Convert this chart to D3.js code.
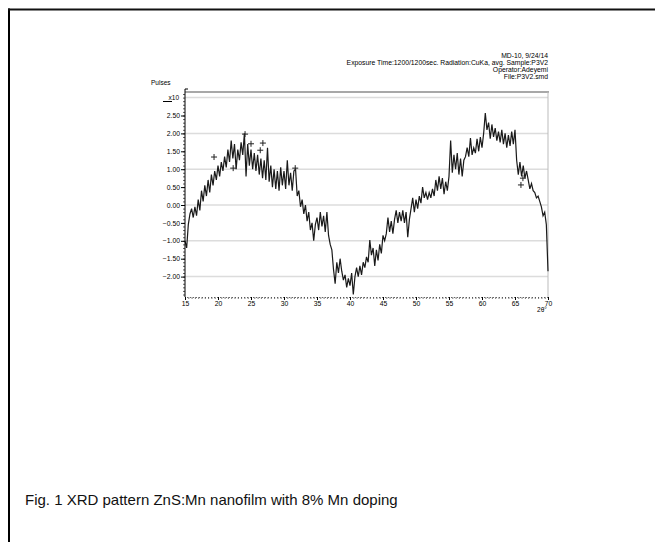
<!DOCTYPE html>
<html>
<head>
<meta charset="utf-8">
<script src="https://cdn.jsdelivr.net/npm/d3@7"></script>
<style>
  body { margin: 0; background: #fff; }
  text { font-family: "Liberation Sans", Arial, sans-serif; }
</style>
</head>
<body>
<div id="chart"></div>
<script>
// 2theta sampled every 0.25 deg from 15 to 70
const twoTheta = d3.range(15, 70.001, 0.25);

// intensity (x10^3 pulses)
const pulses = [
  -1.00, -1.20, -0.55, -0.25,
  -0.10, -0.35, -0.05, -0.30,
   0.15, -0.15,  0.40,  0.10,
   0.55,  0.25,  0.70,  0.35,
   0.85,  0.55,  0.95,  0.70,
   1.10,  0.80,  1.20,  0.95,
   1.35,  1.05,  1.55,  1.20,
   1.80,  1.30,  1.70,  1.00,
   1.55,  1.25,  1.75,  1.40,
   2.00,  0.80,  1.70,  1.10,
   1.55,  1.00,  1.45,  0.95,
   1.40,  0.85,  1.30,  0.75,
   1.25,  0.70,  1.60,  0.65,
   1.10,  0.50,  1.00,  0.45,
   0.95,  0.40,  1.05,  0.55,
   0.95,  0.45,  1.25,  0.55,
   0.90,  0.40,  0.95,  1.00,
   0.25,  0.40, -0.05,  0.15,
  -0.25,  0.00, -0.45, -0.20,
  -0.70, -0.50, -1.00, -0.55,
  -0.35, -0.70, -0.20, -0.60,
  -0.30, -0.75, -0.20, -0.85,
  -1.10, -1.25, -1.80, -2.20,
  -1.60, -1.90, -1.50, -1.85,
  -2.10, -1.95, -2.30, -2.05,
  -2.25, -1.90, -2.50, -2.00,
  -1.75, -2.00, -1.70, -1.95,
  -1.60, -1.75, -1.45, -1.60,
  -0.98, -1.40, -1.20, -1.70,
  -1.25, -1.55, -1.10, -1.35,
  -0.85, -1.00, -0.80, -0.35,
  -0.75, -0.45, -0.80, -0.40,
  -0.15, -0.50, -0.20, -0.45,
  -0.15, -0.50, -0.20, -0.90,
  -0.40, -0.10,  0.20, -0.20,
   0.15, -0.10,  0.25,  0.05,
   0.50,  0.20,  0.35,  0.15,
   0.35,  0.20,  0.45,  0.25,
   0.70,  0.40,  0.80,  0.45,
   0.75,  0.30,  0.65,  0.40,
   0.80,  1.80,  0.90,  1.40,
   1.00,  1.45,  0.85,  1.30,
   0.80,  1.25,  1.35,  1.60,
   1.35,  1.87,  1.40,  1.60,
   1.45,  1.85,  1.50,  1.90,
   1.60,  2.00,  2.57,  2.10,
   2.30,  1.85,  2.25,  1.90,
   2.15,  1.80,  2.05,  1.75,
   2.10,  1.70,  2.00,  1.60,
   1.95,  1.65,  2.05,  1.70,
   2.10,  1.25,  0.85,  1.20,
   0.80,  1.10,  0.75,  0.95,
   0.70,  0.45,  0.60,  0.40,
   0.35,  0.20,  0.25,  0.10,
  -0.05, -0.30, -0.20, -0.55,
  -1.85
];

// peak markers (+)
const markerTheta = [19.4, 22.3, 24.1, 25.0, 26.4, 26.8, 31.7, 65.9, 66.2];
const markerValue = [1.34, 1.03, 1.98, 1.71, 1.53, 1.73, 1.03, 0.56, 0.75];

const xTicks = [15, 20, 25, 30, 35, 40, 45, 50, 55, 60, 65, 70];
const yTicks = [2.5, 2.0, 1.5, 1.0, 0.5, 0.0, -0.5, -1.0, -1.5, -2.0];
const gridValues = [3, 2, 1, 0, -1, -2];

const headerLines = [
  "MD-10,  9/24/14",
  "Exposure Time:1200/1200sec.  Radiation:CuKa, avg.  Sample:P3V2",
  "Operator:Adeyemi",
  "File:P3V2.smd"
];
const caption = "Fig. 1 XRD pattern ZnS:Mn nanofilm with 8% Mn doping";

const svg = d3.select("#chart")
  .append("svg")
  .attr("width", 655)
  .attr("height", 542);

// page frame (left and top edges)
svg.append("line").attr("x1", 9).attr("x2", 9).attr("y1", 8.5).attr("y2", 542)
  .attr("stroke", "#000").attr("stroke-width", 2);
svg.append("line").attr("x1", 8).attr("x2", 655).attr("y1", 9.5).attr("y2", 9.5)
  .attr("stroke", "#111").attr("stroke-width", 2);

const plotLeft = 185, plotRight = 548, plotTop = 92, plotBottom = 297;

const x = d3.scaleLinear().domain([15, 70]).range([plotLeft, plotRight]);
const y = d3.scaleLinear().domain([0, 1]).range([205, 169.2]);

// gridlines
svg.append("g")
  .selectAll("line")
  .data(gridValues)
  .enter()
  .append("line")
  .attr("x1", plotLeft).attr("x2", plotRight)
  .attr("y1", d => y(d)).attr("y2", d => y(d))
  .attr("stroke", "#dcdcdc")
  .attr("stroke-width", 1.5);

// frame top and right
svg.append("line").attr("x1", plotLeft).attr("x2", plotRight + 1).attr("y1", plotTop).attr("y2", plotTop)
  .attr("stroke", "#a8a8a8").attr("stroke-width", 2);
svg.append("line").attr("x1", plotRight).attr("x2", plotRight).attr("y1", plotTop).attr("y2", plotBottom)
  .attr("stroke", "#bbb").attr("stroke-width", 1);

// data line
const line = d3.line()
  .x((d, i) => x(twoTheta[i]))
  .y(d => y(d));

svg.append("path")
  .datum(pulses)
  .attr("d", line)
  .attr("fill", "none")
  .attr("stroke", "#1a1a1a")
  .attr("stroke-width", 1.2)
  .attr("stroke-linejoin", "miter");

// + markers
svg.append("g")
  .selectAll("path")
  .data(markerTheta)
  .enter()
  .append("path")
  .attr("d", (d, i) => {
    const cx = x(d), cy = y(markerValue[i]);
    return `M${cx - 3},${cy}H${cx + 3}M${cx},${cy - 3}V${cy + 3}`;
  })
  .attr("stroke", "#222")
  .attr("stroke-width", 1);

// y axis: minor ticks
svg.append("g")
  .attr("transform", `translate(${plotLeft},0)`)
  .call(d3.axisLeft(y).tickValues(d3.range(-25, 32, 1).map(v => v / 10)).tickSize(2).tickFormat(""))
  .call(g => g.select(".domain").remove())
  .call(g => g.selectAll("line").attr("stroke", "#333").attr("stroke-width", 0.8));

// y axis: major ticks with labels
svg.append("g")
  .attr("transform", `translate(${plotLeft},0)`)
  .call(d3.axisLeft(y).tickValues(yTicks).tickSize(4).tickPadding(1).tickFormat(d3.format(".2f")))
  .call(g => g.select(".domain").remove())
  .call(g => g.selectAll("line").attr("stroke", "#000"))
  .call(g => g.selectAll("text").style("font-size", "6.8px").attr("fill", "#000"));

svg.append("line").attr("x1", plotLeft).attr("x2", plotLeft).attr("y1", plotTop - 3).attr("y2", plotBottom)
  .attr("stroke", "#000").attr("stroke-width", 1);
svg.append("line").attr("x1", plotLeft).attr("x2", plotLeft + 3).attr("y1", plotTop - 3).attr("y2", plotTop - 3)
  .attr("stroke", "#000").attr("stroke-width", 1);

// x axis: dotted baseline with minor ticks
svg.append("g")
  .attr("transform", `translate(0,${plotBottom})`)
  .call(d3.axisBottom(x).tickValues(d3.range(15, 70.01, 0.5)).tickSize(2).tickFormat(""))
  .call(g => g.select(".domain").attr("stroke", "#666").attr("stroke-dasharray", "1,2"))
  .call(g => g.selectAll("line").attr("stroke", "#555").attr("stroke-width", 0.8));

svg.append("g")
  .attr("transform", `translate(0,${plotBottom})`)
  .call(d3.axisBottom(x).tickValues(xTicks).tickSize(3).tickPadding(1).tickFormat(d3.format("d")))
  .call(g => g.select(".domain").remove())
  .call(g => g.selectAll("line").attr("stroke", "#000"))
  .call(g => g.selectAll("text").style("font-size", "6.8px").attr("fill", "#000"));

// axis captions
svg.append("text").attr("x", 542).attr("y", 312).attr("text-anchor", "middle")
  .style("font-size", "6.5px").text("2θ°");
svg.append("text").attr("x", 151).attr("y", 85)
  .style("font-size", "6.5px").text("Pulses");
svg.append("text").attr("x", 179).attr("y", 100).attr("text-anchor", "end")
  .style("font-size", "6.5px").text("x10");
svg.append("line").attr("x1", 163).attr("x2", 172).attr("y1", 101.5).attr("y2", 101.5)
  .attr("stroke", "#000").attr("stroke-width", 1);

// header block, right aligned
svg.append("g")
  .selectAll("text")
  .data(headerLines)
  .enter()
  .append("text")
  .attr("x", 548)
  .attr("y", (d, i) => 57.5 + i * 7)
  .attr("text-anchor", "end")
  .style("font-size", "6.8px")
  .text(d => d);

// figure caption
svg.append("text")
  .attr("x", 25)
  .attr("y", 505)
  .style("font-size", "15px")
  .attr("fill", "#111")
  .text(caption);
</script>
</body>
</html>
